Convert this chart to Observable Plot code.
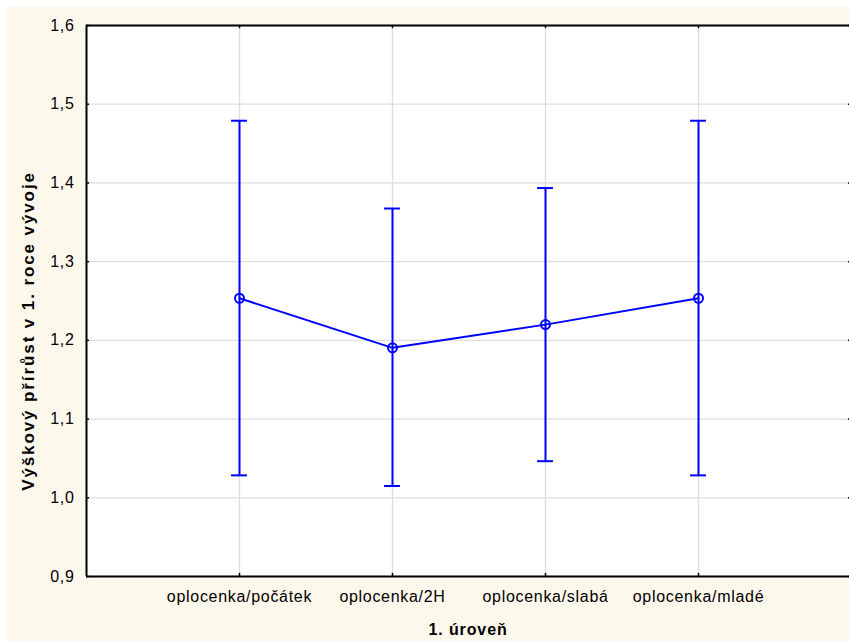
<!DOCTYPE html>
<html><head><meta charset="utf-8">
<script src="https://cdn.jsdelivr.net/npm/d3@7"></script>
<script src="https://cdn.jsdelivr.net/npm/@observablehq/plot@0.6"></script>
<style>
html,body{margin:0;padding:0;background:#fff;}
#wrap{position:absolute;left:7px;top:7px;width:842px;height:634px;background:#fdf8ec;overflow:hidden;}
#wrap svg text{letter-spacing:0.7px;}
</style></head><body><div id="wrap"></div>
<script>
const categories = ["oplocenka/počátek", "oplocenka/2H", "oplocenka/slabá", "oplocenka/mladé"];
const means = [1.2535, 1.1905, 1.2200, 1.2535];
const lower = [1.0285, 1.0150, 1.0465, 1.0285];
const upper = [1.4790, 1.3675, 1.3935, 1.4790];
const yTicks = [0.9, 1.0, 1.1, 1.2, 1.3, 1.4, 1.5, 1.6];
const yTickLabels = ["0,9", "1,0", "1,1", "1,2", "1,3", "1,4", "1,5", "1,6"];
const xTitle = "1. úroveň";
const yTitle = "Výškový přírůst v 1. roce vývoje";

const rows = categories.map((c, i) => ({cat: c, pos: i + 1, mean: means[i], lo: lower[i], hi: upper[i]}));
const positions = rows.map(d => d.pos);
const xMax = categories.length + 1;
const capHalf = 0.052;
const blue = "#0000ff";
const grid = "#dedede";

const chart = Plot.plot({
  width: 842, height: 634,
  marginLeft: 79, marginTop: 18, marginBottom: 65, marginRight: 0,
  style: {background: "transparent", fontFamily: "'Liberation Sans', Arial, sans-serif", overflow: "visible", color: "black"},
  x: {domain: [0, xMax], range: [79, 844]},
  y: {domain: [yTicks[0], yTicks[yTicks.length - 1]]},
  marks: [
    Plot.frame({fill: "white", stroke: null}),
    Plot.ruleY(yTicks, {x1: 0, x2: xMax, stroke: grid, strokeWidth: 1.3}),
    Plot.ruleX(positions, {y1: yTicks[0], y2: yTicks[yTicks.length - 1], stroke: grid, strokeWidth: 1.3}),
    Plot.ruleY(yTicks, {x1: 0, x2: 0.02, stroke: "black", strokeWidth: 1.5}),
    Plot.ruleY(yTicks, {x1: xMax - 0.02, x2: xMax, stroke: "black", strokeWidth: 1.5}),
    Plot.ruleX(positions, {y1: 1.6, y2: 1.596, stroke: "black", strokeWidth: 1.5}),
    Plot.ruleX(positions, {y1: 0.9, y2: 0.904, stroke: "black", strokeWidth: 1.5}),
    Plot.ruleX([0], {stroke: "black", strokeWidth: 2}),
    Plot.ruleY([yTicks[0], yTicks[yTicks.length - 1]], {x1: 0, x2: xMax, stroke: "black", strokeWidth: 2}),
    Plot.ruleX(rows, {x: "pos", y1: "lo", y2: "hi", stroke: blue, strokeWidth: 2}),
    Plot.ruleY(rows, {y: "lo", x1: d => d.pos - capHalf, x2: d => d.pos + capHalf, stroke: blue, strokeWidth: 2}),
    Plot.ruleY(rows, {y: "hi", x1: d => d.pos - capHalf, x2: d => d.pos + capHalf, stroke: blue, strokeWidth: 2}),
    Plot.line(rows, {x: "pos", y: "mean", stroke: blue, strokeWidth: 2}),
    Plot.dot(rows, {x: "pos", y: "mean", r: 4.5, stroke: blue, strokeWidth: 2, fill: "none"}),
    Plot.axisY(yTicks, {tickSize: 0, tickPadding: 12, fontSize: 16, label: null,
      tickFormat: d => yTickLabels[yTicks.indexOf(d)]}),
    Plot.axisX(positions, {tickSize: 0, tickPadding: 14, fontSize: 16, label: null,
      tickFormat: d => categories[positions.indexOf(d)]}),
    Plot.text([xTitle], {frameAnchor: "bottom", dy: 58, fontWeight: "bold", fontSize: 16}),
    Plot.text([yTitle], {frameAnchor: "left", textAnchor: "middle", rotate: -90, dx: -58, dy: 30, fontWeight: "bold", fontSize: 17})
  ]
});
document.getElementById("wrap").appendChild(chart);
d3.select(chart).selectAll("text").filter(function() { return this.textContent === yTitle; })
  .style("letter-spacing", "1.9px");
d3.select(chart).selectAll("text").filter(function() { return this.textContent === xTitle; })
  .style("letter-spacing", "0.9px");
</script>
</body></html>
